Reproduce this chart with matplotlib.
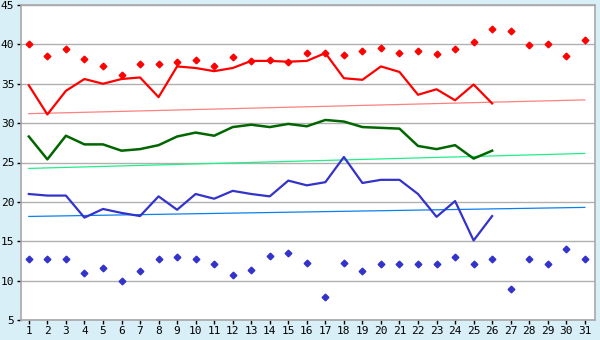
import matplotlib
matplotlib.use("Agg")
import matplotlib.pyplot as plt

days_line = list(range(1, 27))
days_all = list(range(1, 32))

red_max = [40.0, 38.5, 39.4, 38.1, 37.3, 36.1, 37.5, 37.5, 37.8, 38.0,
           37.2, 38.4, 37.9, 38.0, 37.8, 38.9, 38.9, 38.6, 39.2, 39.5,
           38.9, 39.2, 38.8, 39.4, 40.3, 42.0, 41.7, 39.9, 40.0, 38.5, 40.6]
red_line = [34.8, 31.1, 34.1, 35.6, 35.0, 35.6, 35.8, 33.3, 37.2, 37.0,
            36.6, 37.0, 37.9, 37.9, 37.8, 37.9, 38.9, 35.7, 35.5, 37.2,
            36.5, 33.6, 34.3, 32.9, 34.9, 32.5]
green_line = [28.3, 25.4, 28.4, 27.3, 27.3, 26.5, 26.7, 27.2, 28.3, 28.8,
              28.4, 29.5, 29.8, 29.5, 29.9, 29.6, 30.4, 30.2, 29.5, 29.4,
              29.3, 27.1, 26.7, 27.2, 25.5, 26.5]
blue_line = [21.0, 20.8, 20.8, 18.0, 19.1, 18.6, 18.2, 20.7, 19.0, 21.0,
             20.4, 21.4, 21.0, 20.7, 22.7, 22.1, 22.5, 25.7, 22.4, 22.8,
             22.8, 21.0, 18.1, 20.1, 15.1, 18.2]
blue_min = [12.8, 12.8, 12.8, 11.0, 11.6, 10.0, 11.2, 12.8, 13.0, 12.8,
            12.1, 10.7, 11.4, 13.1, 13.5, 12.2, 7.9, 12.2, 11.2, 12.1,
            12.1, 12.1, 12.1, 13.0, 12.1, 12.8, 9.0, 12.8, 12.1, 14.0, 12.7]

trend_x = [1, 31]
red_trend = [31.2, 32.95]
green_trend = [24.25, 26.15]
blue_trend = [18.15, 19.3]

yticks = [5, 10, 15, 20, 25, 30, 35, 40, 45]

plt.rcParams["font.family"] = ["DejaVu Sans Mono"]

fig = plt.figure(figsize=(6, 3.4), dpi=100, facecolor="#d9eff7")
ax = fig.add_axes([20.5 / 600, 20 / 340, 574.5 / 600, 315 / 340])
ax.set_facecolor("white")

for y in yticks:
    ax.axhline(y, color="#b0b0b0", lw=1.0, zorder=1)

ax.plot(trend_x, red_trend, color="#ff8080", lw=0.9, zorder=2)
ax.plot(trend_x, green_trend, color="#22ee88", lw=0.9, zorder=2)
ax.plot(trend_x, blue_trend, color="#0a80f0", lw=0.9, zorder=2)

ax.plot(days_line, red_line, color="#ff0000", lw=1.6, zorder=3)
ax.plot(days_line, green_line, color="#006600", lw=1.8, zorder=3)
ax.plot(days_line, blue_line, color="#3333cc", lw=1.6, zorder=3)

ax.plot(days_all, red_max, ls="none", marker="D", ms=3.4, color="#ff0000", zorder=4)
ax.plot(days_all, blue_min, ls="none", marker="D", ms=3.4, color="#3333cc", zorder=4)

ax.set_xlim(0.55, 31.55)
ax.set_ylim(5, 45)
ax.set_xticks(days_all)
ax.set_yticks(yticks)
ax.tick_params(axis="both", colors="black", labelcolor="black", labelsize=8,
               length=3, width=1.0, direction="out", pad=1.5)
for s in ax.spines.values():
    s.set_color("#a8a8a8")
    s.set_linewidth(1.2)

fig.savefig("out.png", dpi=100, facecolor=fig.get_facecolor())
